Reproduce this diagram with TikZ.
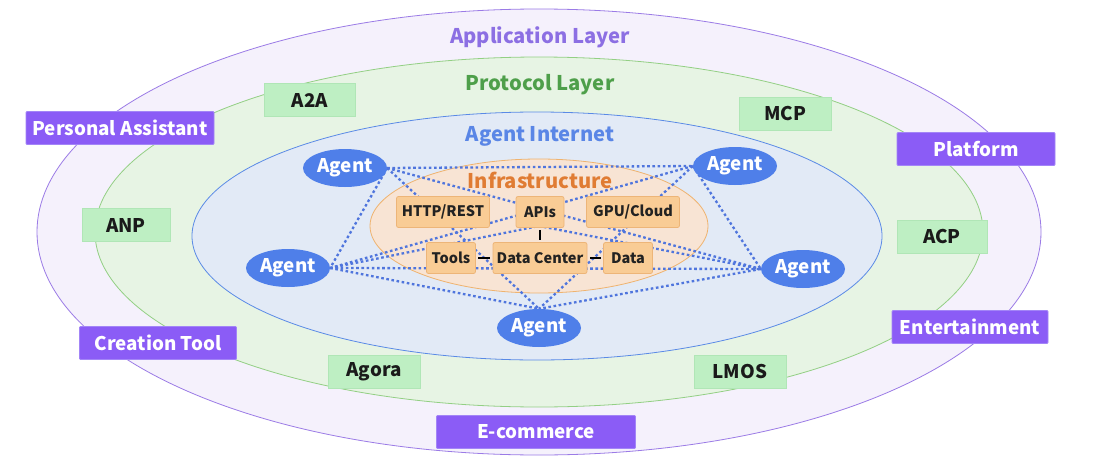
\documentclass[tikz,border=0pt]{standalone}
\usepackage{fontspec}
\setmainfont{Noto Sans CJK SC}
\usetikzlibrary{shapes.geometric}
\definecolor{appfill}{HTML}{F5F1FC}
\definecolor{appline}{HTML}{9B7BE6}
\definecolor{apptext}{HTML}{8C6FE3}
\definecolor{protofill}{HTML}{E7F4E4}
\definecolor{protoline}{HTML}{93CF84}
\definecolor{prototext}{HTML}{4E9F4A}
\definecolor{inetfill}{HTML}{E2EAF6}
\definecolor{inetline}{HTML}{5A8AE6}
\definecolor{inettext}{HTML}{5A86E6}
\definecolor{infrafill}{HTML}{F8E4D4}
\definecolor{infraline}{HTML}{EFB36F}
\definecolor{infratext}{HTML}{E07C33}
\definecolor{pboxc}{HTML}{8B5CF6}
\definecolor{pboxd}{HTML}{A385F7}
\definecolor{gboxc}{HTML}{BEEFC3}
\definecolor{gboxd}{HTML}{B0E6B6}
\definecolor{gtext}{HTML}{1A1A1A}
\definecolor{iboxc}{HTML}{F9CC95}
\definecolor{iboxd}{HTML}{EDB578}
\definecolor{itext}{HTML}{222222}
\definecolor{agentc}{HTML}{4F7FE9}
\definecolor{dotc}{HTML}{4F75DD}
\pgfdeclarelayer{back}
\pgfdeclarelayer{mid}
\pgfsetlayers{back,mid,main}
\begin{document}
\begin{tikzpicture}[x=1pt,y=-1pt,
  lbl/.style={font=\fontsize{18.8}{22}\selectfont\bfseries},
  pbox/.style={lbl, fill=pboxc, draw=pboxd, line width=0.8pt, text=white, minimum height=33pt, inner sep=0pt, rounded corners=1pt},
  gbox/.style={lbl, fill=gboxc, draw=gboxd, line width=0.5pt, text=gtext, minimum height=33pt, minimum width=90pt, inner sep=0pt},
  ibox/.style={font=\fontsize{14.5}{17}\selectfont\bfseries, fill=iboxc, draw=iboxd, line width=0.8pt, text=itext, minimum height=31pt, inner sep=0pt, rounded corners=2pt},
  agent/.style={ellipse, fill=agentc, text=white, font=\fontsize{18.8}{22}\selectfont\bfseries, minimum width=84pt, minimum height=38pt, inner sep=0pt},
  layer/.style={ellipse, inner sep=0pt, line width=0.8pt},
  dotl/.style={dotc, line width=2.3pt, dash pattern=on 2.6pt off 2.6pt},
  solidl/.style={black, line width=2.8pt, shorten >=2.5pt, shorten <=2.5pt},
  title/.style={font=\fontsize{20.2}{24}\selectfont\bfseries}]
\useasboundingbox (0,0) rectangle (1100,471);
\begin{pgfonlayer}{back}
\fill[white] (0,0) rectangle (1100,471);
\node[layer, draw=appline, fill=appfill, minimum width=1004pt, minimum height=446pt] (app) at (539,232) {};
\node[layer, draw=protoline, fill=protofill, minimum width=888pt, minimum height=350pt] (proto) at (539,232) {};
\node[layer, draw=inetline, fill=inetfill, minimum width=690pt, minimum height=248pt] (inet) at (537,236) {};
\node[layer, draw=infraline, fill=infrafill, minimum width=338pt, minimum height=134pt] (infra) at (539,226) {};
\end{pgfonlayer}

\node[title, text=apptext] (tapp) at (540,37) {Application Layer};
\node[title, text=prototext] (tproto) at (540,85) {Protocol Layer};
\node[title, text=inettext] (tinet) at (540,136) {Agent Internet};
\node[title, text=infratext] (tinfra) at (540,180) {Infrastructure};

% application boxes
\node[pbox, minimum width=188pt] (pa) at (120,128) {Personal Assistant};
\node[pbox, minimum width=158pt] (plat) at (976,149) {Platform};
\node[pbox, minimum width=157pt] (ct) at (158,343) {Creation Tool};
\node[pbox, minimum width=156pt] (ent) at (970,327) {Entertainment};
\node[pbox, minimum width=199pt] (ecom) at (536,432) {E-commerce};

% protocol boxes
\node[gbox, minimum width=91pt] (a2a) at (310,100) {A2A};
\node[gbox, minimum width=92pt] (mcp) at (785,114) {MCP};
\node[gbox, minimum width=88pt] (anp) at (126,225) {ANP};
\node[gbox, minimum width=90pt] (acp) at (942,237) {ACP};
\node[gbox, minimum width=92pt] (agora) at (374,372) {Agora};
\node[gbox, minimum width=92pt] (lmos) at (740,372) {LMOS};

% infrastructure boxes
\node[ibox, minimum width=93pt] (http) at (443,212) {HTTP/REST};
\node[ibox, minimum width=48pt] (apis) at (540,212) {APIs};
\node[ibox, minimum width=93pt] (gpu) at (633,212) {GPU/Cloud};
\node[ibox, minimum width=49pt] (tools) at (451,258) {Tools};
\node[ibox, minimum width=94pt] (dc) at (540,258) {Data Center};
\node[ibox, minimum width=49pt] (data) at (628,258) {Data};

\draw[solidl] (apis.south) -- (dc.north);
\draw[solidl] (tools.east) -- (dc.west);
\draw[solidl] (dc.east) -- (data.west);

% agents
\node[agent] (a1) at (345,168) {Agent};
\node[agent] (a2) at (735,166) {Agent};
\node[agent] (a3) at (288,268) {Agent};
\node[agent] (a4) at (803,269) {Agent};
\node[agent] (a5) at (539,328) {Agent};

\begin{pgfonlayer}{mid}
\draw[dotl] (a1.east) -- (a2.west);
\draw[dotl] (a1.east) -- (a3.east);
\draw[dotl] (a1.east) -- (a4.west);
\draw[dotl] (a1.east) -- (a5.north);
\draw[dotl] (a2.west) -- (a3.east);
\draw[dotl] (a2.west) -- (a4.west);
\draw[dotl] (a2.west) -- (a5.north);
\draw[dotl] (a3.east) -- (a4.west);
\draw[dotl] (a3.east) -- (a5.north);
\draw[dotl] (a4.west) -- (a5.north);
\draw[dotl] (a3.east) -- (infra.center);
\draw[dotl] (a4.west) -- (infra.center);
\end{pgfonlayer}
\end{tikzpicture}
\end{document}
